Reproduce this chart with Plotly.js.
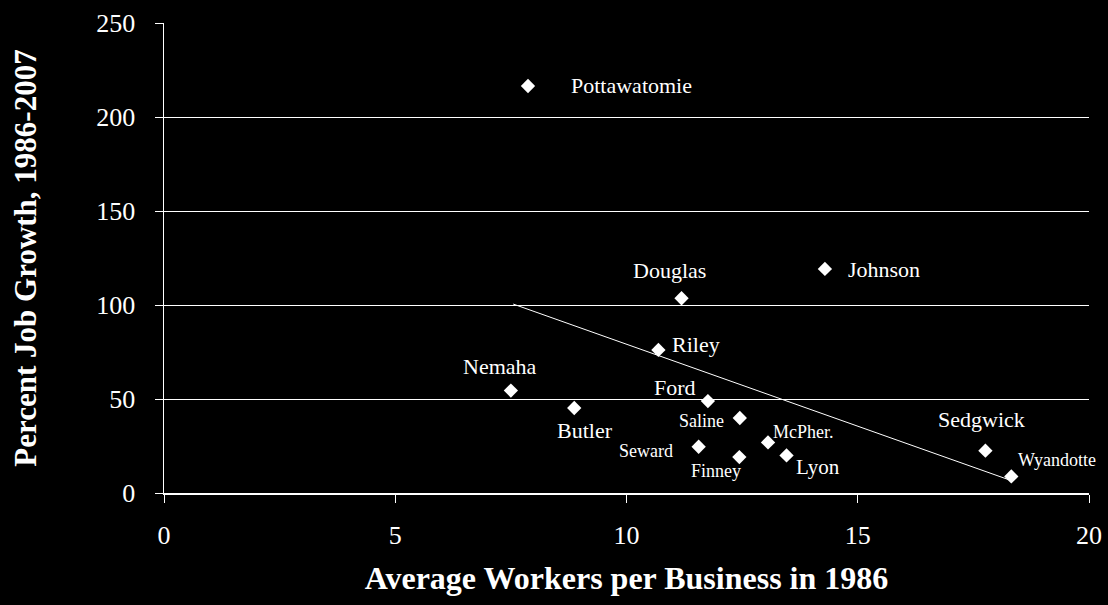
<!DOCTYPE html>
<html>
<head>
<meta charset="utf-8">
<script src="https://cdn.plot.ly/plotly-3.0.1.min.js"></script>
<style>
  html, body { margin: 0; padding: 0; background: #000; }
  #chart { width: 1108px; height: 605px; }
</style>
</head>
<body>
<div id="chart"></div>
<script>
// Data
const counties = ["Pottawatomie", "Douglas", "Johnson", "Riley", "Nemaha", "Ford", "Butler",
                  "Saline", "Seward", "Finney", "McPher.", "Lyon", "Sedgwick", "Wyandotte"];
const workersPerBusiness1986 = [7.87, 11.19, 14.29, 10.69, 7.50, 11.76, 8.87,
                                12.45, 11.56, 12.44, 13.06, 13.46, 17.76, 18.32];
const jobGrowthPct = [216.5, 103.6, 119.2, 76.1, 54.5, 48.9, 45.2,
                      39.9, 24.6, 19.1, 26.9, 20.0, 22.5, 8.8];
const trendX = [7.55, 18.33];
const trendY = [100.5, 6.5];
const xTicks = [0, 5, 10, 15, 20];
const yTicks = [0, 50, 100, 150, 200, 250];

// Label placement (pixel offsets from each point) and size
const labelStyle = {
  "Pottawatomie": {dx: 104, dy: 0, s: 22},
  "Douglas": {dx: -12, dy: -28, s: 22},
  "Johnson": {dx: 59, dy: 1, s: 22},
  "Riley": {dx: 38, dy: -5, s: 22},
  "Nemaha": {dx: -11, dy: -24, s: 22},
  "Ford": {dx: -33, dy: -14, s: 22},
  "Butler": {dx: 11, dy: 22, s: 22},
  "Saline": {dx: -38, dy: 3, s: 18},
  "Seward": {dx: -53, dy: 4, s: 18},
  "Finney": {dx: -23, dy: 14, s: 18},
  "McPher.": {dx: 35, dy: -10, s: 18},
  "Lyon": {dx: 31, dy: 12, s: 21},
  "Sedgwick": {dx: -4, dy: -31, s: 22},
  "Wyandotte": {dx: 46, dy: -16, s: 18}
};

const serif = "Liberation Serif, DejaVu Serif, serif";

const traces = [
  {
    x: trendX, y: trendY, type: "scatter", mode: "lines",
    line: {color: "#ffffff", width: 1}, hoverinfo: "skip", showlegend: false
  },
  {
    x: workersPerBusiness1986, y: jobGrowthPct, text: counties,
    type: "scatter", mode: "markers",
    marker: {symbol: "diamond", size: 11, color: "#ffffff", line: {width: 0}},
    showlegend: false
  }
];

const annotations = counties.map((c, i) => ({
  x: workersPerBusiness1986[i], y: jobGrowthPct[i], xref: "x", yref: "y",
  text: c, showarrow: false,
  xshift: labelStyle[c].dx, yshift: -labelStyle[c].dy,
  font: {family: serif, size: labelStyle[c].s, color: "#ffffff"}
}));

const layout = {
  width: 1108, height: 605,
  paper_bgcolor: "#000000", plot_bgcolor: "#000000",
  margin: {l: 164, r: 19, t: 23, b: 112, pad: 0},
  showlegend: false,
  xaxis: {
    range: [0, 20], tickvals: xTicks, ticktext: xTicks.map(String),
    showgrid: false, zeroline: false,
    showline: true, linecolor: "#ffffff", linewidth: 1.5,
    ticks: "outside", ticklen: 8, tickcolor: "#ffffff", tickwidth: 1,
    ticklabelstandoff: 10,
    tickfont: {family: serif, size: 26, color: "#ffffff"},
    title: {text: "Average Workers per Business in 1986",
            font: {family: serif, size: 32, color: "#ffffff", weight: "bold"},
            standoff: 18}
  },
  yaxis: {
    range: [0, 250], tickvals: yTicks, ticktext: yTicks.map(String),
    showgrid: true, gridcolor: "#ffffff", gridwidth: 1, zeroline: false,
    showline: true, linecolor: "#ffffff", linewidth: 1.5,
    ticks: "outside", ticklen: 8, tickcolor: "#ffffff", tickwidth: 1,
    ticklabelstandoff: 14,
    tickfont: {family: serif, size: 26, color: "#ffffff"},
    title: {text: "Percent Job Growth, 1986-2007",
            font: {family: serif, size: 31, color: "#ffffff", weight: "bold"},
            standoff: 50}
  },
  annotations: annotations
};

Plotly.newPlot("chart", traces, layout, {displayModeBar: false, staticPlot: true});
</script>
</body>
</html>
